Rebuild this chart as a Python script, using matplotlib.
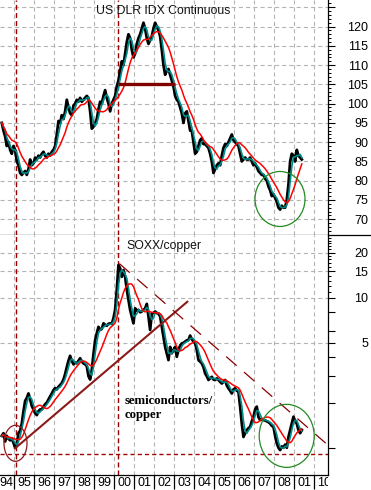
import numpy as np
import pandas as pd
import matplotlib
matplotlib.use("Agg")
import matplotlib.pyplot as plt
from matplotlib.patches import Ellipse
from matplotlib.lines import Line2D
from matplotlib.transforms import ScaledTranslation, Bbox, TransformedBbox
from matplotlib.ticker import FixedLocator, FixedFormatter, NullFormatter

plt.rcParams["font.family"] = ["Liberation Sans", "DejaVu Sans"]
plt.rcParams["lines.scale_dashes"] = False

# ---------------------------------------------------------------- data
months = pd.period_range("1994-05", "2009-05", freq="M")

dollar_index = [
    95, 93, 91.5, 89, 90, 88, 87, 89, 88, 85, 84, 82,
    81.5, 82, 82.5, 81.5, 83, 85.5, 84, 84.5, 86, 85.5, 86.5, 86,
    87, 87.5, 86.5, 86, 87, 86.5, 87.5, 88, 89, 92, 95.5, 95,
    97, 96, 98, 101, 99, 97.5, 97, 99.5, 100, 101, 100.5, 101.5,
    100.5, 101, 101.5, 102, 101.5, 98, 93.5, 94, 95, 96, 98.5, 100.5,
    100, 102, 103.5, 101.5, 100, 98, 100, 101, 102, 104.5, 106, 108.5,
    111, 110, 113, 116, 118, 117, 114, 112, 113, 115.5, 117, 118,
    119.5, 121, 119.5, 117, 115.5, 116.5, 117.5, 119.5, 121, 120, 119, 117.5,
    114, 110, 107.5, 108.5, 109, 107.5, 106, 104.5, 102, 101, 100.5, 99,
    97.5, 95, 97.5, 98, 95.5, 93, 93, 90, 87, 87.5, 89, 90.5,
    91, 89.5, 89.5, 89, 88.5, 87, 85, 82, 83, 84, 84.5, 84,
    86.5, 88.5, 89.5, 89, 90, 91, 92, 90.5, 90, 89.5, 89, 87,
    85, 85.5, 86, 85.5, 85.5, 86, 85, 84, 84.5, 83.5, 82.5, 82,
    81.5, 81.5, 80.5, 80, 78.5, 77.5, 76, 76.5, 75.5, 74.5, 73, 72.5,
    73.5, 73, 73, 75, 79, 85, 87, 86.5, 85, 88, 86.5, 86,
    85.5,
]

soxx_copper = [
    1.2, 1.25, 1.1, 1.2, 1.15, 1.12, 1.15, 1.08, 1.0, 1.05, 1.25, 1.3,
    1.45, 1.75, 2.05, 2.15, 2.3, 2.1, 1.9, 1.8, 1.7, 1.65, 1.75, 1.8,
    1.8, 1.88, 1.95, 2.0, 2.1, 2.2, 2.3, 2.42, 2.5, 2.45, 2.55, 2.62,
    2.7, 2.85, 3.1, 3.45, 3.8, 4.1, 3.8, 3.6, 3.7, 3.65, 3.8, 3.95,
    3.75, 3.65, 3.6, 3.5, 3.0, 2.85, 3.3, 4.2, 5.2, 5.8, 6.4, 6.1,
    6.2, 6.75, 6.6, 6.5, 6.7, 6.75, 6.7, 7.3, 8.3, 11.3, 16.5, 15.7,
    13.8, 15.3, 13.8, 11.3, 9.65, 8.3, 7.5, 6.75, 8.5, 8.2, 8.3, 8.0,
    8.1, 8.3, 8.5, 9.1, 7.5, 6.1, 7.85, 7.9, 8.1, 7.9, 7.85, 7.5,
    6.4, 5.5, 4.7, 4.26, 3.84, 4.7, 4.26, 4.5, 4.7, 4.04, 4.48, 4.8,
    4.96, 5.0, 5.1, 5.2, 5.22, 5.6, 5.3, 5.1, 4.96, 4.48, 3.84, 3.75,
    3.65, 3.45, 3.13, 3.0, 2.83, 2.9, 2.97, 2.85, 2.83, 2.9, 2.83, 2.75,
    2.68, 2.75, 2.83, 2.6, 2.49, 2.4, 2.3, 2.45, 2.49, 2.4, 2.36, 1.88,
    1.45, 1.18, 1.25, 1.31, 1.35, 1.38, 1.5, 1.61, 1.8, 1.88, 1.6, 1.53,
    1.55, 1.53, 1.52, 1.5, 1.48, 1.45, 1.4, 1.38, 1.2, 1.07, 1.0, 0.965,
    1.02, 1.0, 1.05, 1.0, 1.18, 1.31, 1.45, 1.61, 1.5, 1.45, 1.31, 1.25,
    1.31,
]

year_starts = list(range(1995, 2011))
year_labels = ["94", "95", "96", "97", "98", "99", "00", "01", "02",
               "03", "04", "05", "06", "07", "08", "01", "10"]
dollar_ticks = [70, 75, 80, 85, 90, 95, 100, 105, 110, 115, 120]
ratio_ticks = [5, 10, 15, 20]

FAST, SLOW = 3, 10   # moving-average windows, in months

# ---------------------------------------------------------------- figure
W, H, DPI = 371, 490, 100
fig = plt.figure(figsize=(W / DPI, H / DPI), dpi=DPI)
AX_R = 328 / W
ax1 = fig.add_axes([0, 1 - 235 / H, AX_R, 235 / H])
ax2 = fig.add_axes([0, 1 - 475 / H, AX_R, 240 / H])

t = np.asarray(months.year + (months.month - 0.5) / 12, dtype=float)

GRID = dict(color="#b4b4b4", lw=0.8, dashes=(3, 2.2), zorder=1)
MARK = dict(color="#990000", lw=1.0, dashes=(3.6, 2.2), zorder=2)


def draw_series(ax, values):
    s = pd.Series(values, index=t)
    ax.plot(t, s.values, color="black", lw=2.0, zorder=3)
    ax.plot(t, s.rolling(FAST, min_periods=1).mean().values,
            color="#008b8b", lw=1.2, zorder=4)
    ax.plot(t, s.rolling(SLOW, min_periods=1).mean().values,
            color="#ff0000", lw=1.1, zorder=5)


def ring(ax, xc, yc, w_px, h_px, color):
    tr = fig.dpi_scale_trans + ScaledTranslation(xc, yc, ax.transData)
    ax.add_patch(Ellipse((0, 0), w_px / DPI, h_px / DPI, transform=tr,
                         fill=False, edgecolor=color, lw=0.9, zorder=7))


for ax in (ax1, ax2):
    for yr in year_starts:
        ax.axvline(yr, **GRID)
    for x in (1995.07, 2000.2):
        ax.axvline(x, **MARK)
    for side in ("top", "left"):
        ax.spines[side].set_visible(False)
    for side in ("right", "bottom"):
        ax.spines[side].set_linewidth(0.9)
        ax.spines[side].set_color("black")

# ---------------------------------------------------------------- dollar index
for v in dollar_ticks + [125]:
    ax1.axhline(v, **GRID)
draw_series(ax1, dollar_index)
ax1.plot([2000.2, 2003.035], [105, 105], color="#800000", lw=2.4,
         solid_capstyle="butt", zorder=6)
ax1.text(163.5 / 328, 1 - 10.5 / 235, "US DLR IDX Continuous", transform=ax1.transAxes,
         ha="center", va="center", fontsize=8.8, color="#111111")

ax1.yaxis.tick_right()
ax1.yaxis.set_major_locator(FixedLocator(dollar_ticks + [125]))
ax1.yaxis.set_major_formatter(FixedFormatter([str(v) for v in dollar_ticks] + [""]))
ax1.yaxis.set_minor_locator(FixedLocator(list(range(66, 127))))
ax1.set_xticks(year_starts)
ax1.tick_params(axis="x", length=0, labelbottom=False)

# ---------------------------------------------------------------- SOXX / copper
ax2.set_yscale("log")
for v in ratio_ticks:
    ax2.axhline(v, **GRID)
draw_series(ax2, soxx_copper)
ax2.plot([1995.035, 2003.65], [0.99, 9.4], color="#8b1a1a", lw=1.5, zorder=6)
ax2.plot([2000.25, 2010.685], [16.9, 1.04], color="#8b0000", lw=0.9,
         dashes=(10, 7), zorder=6)
ax2.axhline(0.907, color="#a00000", lw=1.0, dashes=(3, 2.2), zorder=6)
ax2.text(164 / 328, 1 - 10.5 / 240, "SOXX/copper", transform=ax2.transAxes,
         ha="center", va="center", fontsize=8.8, color="#111111")
ax2.text(125 / 328, 80 / 240, "semiconductors/\ncopper", transform=ax2.transAxes,
         ha="left", va="top", fontsize=9.2, fontweight="bold",
         family=["Liberation Serif", "DejaVu Serif"], linespacing=1.2)

ratio_major = [1, 2, 3, 4, 5, 6, 8, 10, 15, 20]
ax2.yaxis.tick_right()
ax2.yaxis.set_major_locator(FixedLocator(ratio_major))
ax2.yaxis.set_major_formatter(FixedFormatter(
    [str(v) if v in ratio_ticks else "" for v in ratio_major]))
ax2.yaxis.set_minor_locator(FixedLocator(
    [v for v in range(11, 27) if v not in (15, 20)]))
ax2.yaxis.set_minor_formatter(NullFormatter())

# year labels sit between the year-start separators; the first is kept inside the edge
label_pos = [1994.6] + [y + 0.5 for y in range(1995, 2011)]
ax2.set_xticks(year_starts)
ax2.set_xticks(label_pos, minor=True)
ax2.set_xticklabels(year_labels, minor=True)
ax2.tick_params(axis="x", which="major", length=10, width=0.9,
                direction="out", labelbottom=False, color="black")
ax2.tick_params(axis="x", which="minor", length=0, pad=1.3, labelsize=9,
                labelcolor="black")

for ax in (ax1, ax2):
    ax.tick_params(axis="y", which="major", length=5.0, width=0.8,
                   direction="out", pad=23.8, labelsize=9, labelcolor="black")
    ax.tick_params(axis="y", which="minor", length=2.3, width=0.7, direction="out")
    plt.setp(ax.get_yticklabels(), ha="right")

# circled regions
ring(ax1, 2008.285, 75.25, 50, 55, "#228b22")
ring(ax2, 1995.06, 1.07, 23, 36, "#8b1a1a")
ring(ax2, 2008.62, 1.2, 55, 63, "#228b22")

ax1.set_xlim(1994.285, 2010.685)
ax2.set_xlim(1994.285, 2010.685)
ax1.set_ylim(65.9, 126.9)
ax2.set_ylim(0.658, 26.2)

# year labels stop at the value axis
clip = TransformedBbox(Bbox([[0, 0], [AX_R, 1]]), fig.transFigure)
for lbl in ax2.get_xticklabels(minor=True):
    lbl.set_clip_box(clip)
    lbl.set_clip_on(True)

# separator between panels runs across the whole figure
fig.add_artist(Line2D([AX_R, 1], [1 - 235 / H] * 2, transform=fig.transFigure,
                      color="black", lw=0.9))

fig.savefig("out.png", dpi=DPI)
